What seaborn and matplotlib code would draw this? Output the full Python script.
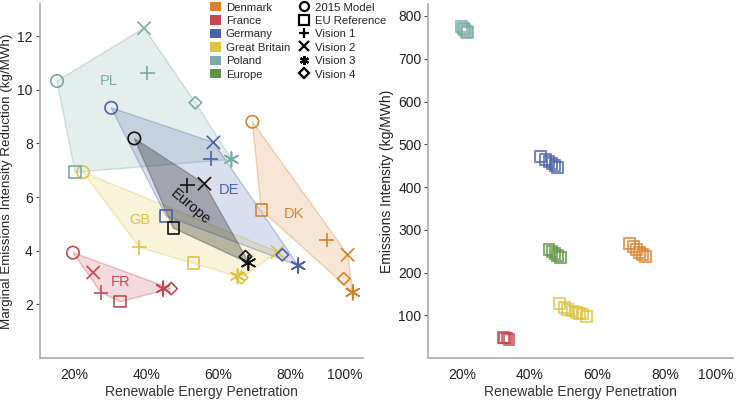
import numpy as np
import pandas as pd
import matplotlib
matplotlib.use("Agg")
import matplotlib.pyplot as plt
from matplotlib.patches import Patch
from matplotlib.lines import Line2D
import seaborn as sns


# DATA
scenarios = ["2015 Model", "EU Reference", "Vision 1", "Vision 2", "Vision 3", "Vision 4"]
countries = ["Denmark", "France", "Germany", "Great Britain", "Poland", "Europe"]
codes = ["DK", "FR", "DE", "GB", "PL", "Europe"]

# left panel: renewable penetration / marginal emissions intensity reduction, one per scenario
dk_pen = [0.694, 0.719, 0.900, 0.958, 0.972, 0.947]
dk_mer = [8.81, 5.52, 4.41, 3.85, 2.45, 2.96]
fr_pen = [0.197, 0.328, 0.275, 0.253, 0.447, 0.469]
fr_mer = [3.93, 2.11, 2.44, 3.19, 2.59, 2.59]
de_pen = [0.303, 0.455, 0.578, 0.586, 0.821, 0.777]
de_mer = [9.33, 5.30, 7.44, 8.04, 3.45, 3.85]
gb_pen = [0.225, 0.531, 0.381, 0.764, 0.653, 0.664]
gb_mer = [6.93, 3.55, 4.13, 3.96, 3.05, 3.00]
pl_pen = [0.153, 0.203, 0.403, 0.394, 0.636, 0.536]
pl_mer = [10.33, 6.93, 10.63, 12.30, 7.41, 9.52]
eu_pen = [0.367, 0.475, 0.514, 0.561, 0.683, 0.675]
eu_mer = [8.19, 4.85, 6.44, 6.50, 3.55, 3.78]

# right panel: renewable penetration / emissions intensity
dk_ri_pen = [0.694, 0.706, 0.715, 0.724, 0.732, 0.741]
dk_ri = [268, 261, 254, 247, 243, 238]
fr_ri_pen = [0.321, 0.326, 0.332, 0.338]
fr_ri = [49, 47, 47, 44]
de_ri_pen = [0.432, 0.447, 0.456, 0.465, 0.474, 0.482]
de_ri = [471, 464, 460, 455, 450, 446]
gb_ri_pen = [0.488, 0.503, 0.512, 0.526, 0.538, 0.547, 0.556, 0.568]
gb_ri = [128, 119, 114, 110, 107, 105, 103, 98]
pl_ri_pen = [0.197, 0.203, 0.206, 0.212, 0.215]
pl_ri = [775, 770, 768, 763, 761]
eu_ri_pen = [0.456, 0.465, 0.474, 0.482, 0.491]
eu_ri = [254, 250, 245, 240, 236]

x_ticks = [0.2, 0.4, 0.6, 0.8, 1.0]
x_tick_labels = ["20%", "40%", "60%", "80%", "100%"]


# COLOURS AND MARKERS
palette = {
    "Denmark": "#d9822e",
    "France": "#c34a50",
    "Germany": "#4a62a6",
    "Great Britain": "#ddc443",
    "Poland": "#79ada4",
    "Europe": "#5e9443",
}
left_palette = dict(palette)
left_palette["Europe"] = "#111111"

markers = {
    "2015 Model": ("o", 80),
    "EU Reference": ("s", 70),
    "Vision 1": ("+", 110),
    "Vision 2": ("x", 90),
    "Vision 3": ((6, 2, 0), 110),
    "Vision 4": ("D", 40),
}

left_rows = []
for c, p, m in [("Denmark", dk_pen, dk_mer), ("France", fr_pen, fr_mer),
                ("Germany", de_pen, de_mer), ("Great Britain", gb_pen, gb_mer),
                ("Poland", pl_pen, pl_mer), ("Europe", eu_pen, eu_mer)]:
    for s, xv, yv in zip(scenarios, p, m):
        left_rows.append({"country": c, "scenario": s, "pen": xv, "mer": yv})
left_df = pd.DataFrame(left_rows)

right_rows = []
for c, p, m in [("Denmark", dk_ri_pen, dk_ri), ("France", fr_ri_pen, fr_ri),
                ("Germany", de_ri_pen, de_ri), ("Great Britain", gb_ri_pen, gb_ri),
                ("Poland", pl_ri_pen, pl_ri), ("Europe", eu_ri_pen, eu_ri)]:
    for xv, yv in zip(p, m):
        right_rows.append({"country": c, "pen": xv, "ei": yv})
right_df = pd.DataFrame(right_rows)


def hull(points):
    pts = sorted(set(points))

    def cross(o, a, b):
        return (a[0] - o[0]) * (b[1] - o[1]) - (a[1] - o[1]) * (b[0] - o[0])

    lower, upper = [], []
    for p in pts:
        while len(lower) >= 2 and cross(lower[-2], lower[-1], p) <= 0:
            lower.pop()
        lower.append(p)
    for p in reversed(pts):
        while len(upper) >= 2 and cross(upper[-2], upper[-1], p) <= 0:
            upper.pop()
        upper.append(p)
    return lower[:-1] + upper[:-1]


def hollow(coll, lw):
    fc = coll.get_facecolors()
    coll.set_edgecolors(fc)
    coll.set_facecolors("none")
    coll.set_linewidths(lw)


# FIGURE
sns.set_theme(style="ticks")
plt.rcParams["font.family"] = ["Liberation Sans", "DejaVu Sans"]

fig = plt.figure(figsize=(7.36, 4.01), dpi=100)
ax1 = fig.add_axes([0.054, 0.107, 0.439, 0.883])
ax2 = fig.add_axes([0.582, 0.107, 0.414, 0.883])

# polygons
for c in ["Poland", "Great Britain", "Denmark", "France", "Germany", "Europe"]:
    sub = left_df[left_df["country"] == c]
    poly = np.array(hull(list(zip(sub["pen"], sub["mer"]))))
    col = left_palette[c]
    fa = 0.28 if c == "Europe" else 0.2
    ax1.fill(poly[:, 0], poly[:, 1], facecolor=col, alpha=fa, zorder=1)
    ax1.fill(poly[:, 0], poly[:, 1], facecolor="none", edgecolor=col,
             alpha=0.35, linewidth=1.0, zorder=1)

# scenario markers
for s in scenarios:
    mk, sz = markers[s]
    sub = left_df[left_df["scenario"] == s]
    sns.scatterplot(data=sub, x="pen", y="mer", hue="country",
                    palette=left_palette, marker=mk, s=sz,
                    legend=False, ax=ax1, zorder=3)
    hollow(ax1.collections[-1], 1.2)

# region labels
label_pos = {
    "PL": (0.297, 10.33, 0),
    "DE": (0.628, 6.26, 0),
    "GB": (0.383, 5.15, 0),
    "DK": (0.808, 5.37, 0),
    "FR": (0.328, 2.85, 0),
    "Europe": (0.522, 5.63, -40),
}
for c, code in zip(countries, codes):
    xv, yv, rot = label_pos[code]
    ax1.text(xv, yv, code, color=left_palette[c], fontsize=10.5,
             ha="center", va="center", rotation=rot, rotation_mode="anchor",
             zorder=4)

ax1.set_xlim(0.105, 1.0)
ax1.set_ylim(0, 13.2)
ax1.set_yticks([2, 4, 6, 8, 10, 12])
ax1.set_xlabel("Renewable Energy Penetration", fontsize=10, labelpad=2)
ax1.set_ylabel("Marginal Emissions Intensity Reduction (kg/MWh)",
               fontsize=9.6, labelpad=3)

# right panel
sns.scatterplot(data=right_df, x="pen", y="ei", hue="country",
                palette=palette, marker="s", s=60, legend=False,
                ax=ax2, zorder=3)
coll = ax2.collections[-1]
hollow(coll, 1.5)
coll.set_alpha(0.75)

ax2.set_xlim(0.1, 1.0)
ax2.set_ylim(0, 828)
ax2.set_yticks([100, 200, 300, 400, 500, 600, 700, 800])
ax2.set_xlabel("Renewable Energy Penetration", fontsize=10, labelpad=2)
ax2.set_ylabel("Emissions Intensity (kg/MWh)", fontsize=10, labelpad=3)

for ax in [ax1, ax2]:
    sns.despine(ax=ax)
    for side in ["left", "bottom"]:
        ax.spines[side].set_color("#aaaaaa")
        ax.spines[side].set_linewidth(1.2)
    ax.set_xticks(x_ticks)
    ax.set_xticklabels(x_tick_labels)
    ax.get_xticklabels()[-1].set_horizontalalignment("right")
    ax.tick_params(axis="x", length=0, labelsize=10, pad=7, colors="#222222")
    ax.tick_params(axis="y", length=3, width=0.8, labelsize=10, pad=2,
                   color="#444444", labelcolor="#222222")
    ax.xaxis.label.set_color("#333333")
    ax.yaxis.label.set_color("#222222")
    ax.grid(False)

# legend
handles = [Patch(facecolor=palette[c], edgecolor="none") for c in countries]
for s in scenarios:
    mk, sz = markers[s]
    handles.append(Line2D([], [], linestyle="none", marker=mk,
                          markersize=6.5 if mk != "D" else 5,
                          markerfacecolor="none", markeredgecolor="black",
                          markeredgewidth=1.6))
labels = countries + scenarios
fig.legend(handles, labels, ncol=2, loc="upper left",
           bbox_to_anchor=(0.286, 0.995), frameon=False, fontsize=8.2,
           handlelength=0.9, handleheight=0.9, handletextpad=0.45,
           labelspacing=0.24, columnspacing=0.8, borderpad=0,
           borderaxespad=0)

plt.savefig("out.png", dpi=100)
